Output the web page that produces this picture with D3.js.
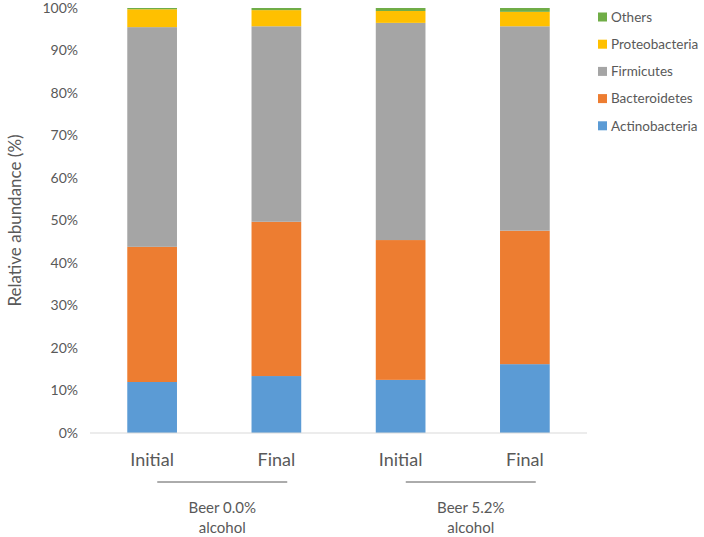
<!DOCTYPE html>
<html>
<head>
<meta charset="utf-8">
<script src="https://cdn.jsdelivr.net/npm/d3@7"></script>
<style>
  body { margin: 0; background: #fff; }
  text { font-family: Lato, "Open Sans", sans-serif; fill: #595959; }
</style>
</head>
<body>
<script>
// data
const samples = ["b00-initial", "b00-final", "b52-initial", "b52-final"];
const sampleLabels = ["Initial", "Final", "Initial", "Final"];
const groups = ["Beer 0.0%|alcohol", "Beer 5.2%|alcohol"];
const phyla = ["Actinobacteria", "Bacteroidetes", "Firmicutes", "Proteobacteria", "Others"];
const actinobacteria = [12.0, 13.4, 12.5, 16.2];
const bacteroidetes = [31.8, 36.3, 32.9, 31.4];
const firmicutes = [51.7, 46.0, 51.1, 48.1];
const proteobacteria = [4.2, 3.8, 2.8, 3.4];
const others = [0.3, 0.5, 0.7, 0.9];
const yTicks = [0, 10, 20, 30, 40, 50, 60, 70, 80, 90, 100];

const colors = ["#5B9BD5", "#ED7D31", "#A5A5A5", "#FFC000", "#70AD47"];

let width = 704;
let height = 537;
let marginTop = 8;
let marginRight = 117;
let marginBottom = 104;
let marginLeft = 90;

const series = [actinobacteria, bacteroidetes, firmicutes, proteobacteria, others];
const table = samples.map((s, i) => {
  const row = { sample: s };
  phyla.forEach((p, j) => row[p] = series[j][i]);
  return row;
});

const stacked = d3.stack().keys(phyla)(table);

const x = d3.scaleBand()
  .domain(samples)
  .range([marginLeft, width - marginRight])
  .paddingInner(0.6)
  .paddingOuter(0.3);

const y = d3.scaleLinear()
  .domain([0, 100])
  .range([height - marginBottom, marginTop]);

const color = d3.scaleOrdinal().domain(phyla).range(colors);

const svg = d3.select("body")
  .append("svg")
  .attr("width", width)
  .attr("height", height)
  .attr("viewBox", [0, 0, width, height]);

// bars
svg.append("g")
  .selectAll("g")
  .data(stacked)
  .join("g")
  .attr("fill", d => color(d.key))
  .selectAll("rect")
  .data(d => d)
  .join("rect")
  .attr("x", d => x(d.data.sample))
  .attr("y", d => y(d[1]))
  .attr("height", d => y(d[0]) - y(d[1]))
  .attr("width", x.bandwidth());

// y axis
svg.append("g")
  .attr("transform", `translate(${marginLeft},0)`)
  .call(d3.axisLeft(y).tickValues(yTicks).tickFormat(d => d + "%").tickSize(0).tickPadding(12))
  .call(g => g.select(".domain").remove())
  .call(g => g.selectAll("text").style("font-size", "14px"));

// baseline
svg.append("line")
  .attr("x1", marginLeft)
  .attr("x2", width - marginRight)
  .attr("y1", y(0))
  .attr("y2", y(0))
  .attr("stroke", "#d9d9d9")
  .attr("stroke-width", 1);

// y label
svg.append("text")
  .attr("transform", `translate(21,${(y(0) + y(100)) / 2}) rotate(-90)`)
  .attr("text-anchor", "middle")
  .style("font-size", "17px")
  .text("Relative abundance (%)");

// sample labels
svg.append("g")
  .selectAll("text")
  .data(samples)
  .join("text")
  .attr("x", d => x(d) + x.bandwidth() / 2)
  .attr("y", y(0) + 33)
  .attr("text-anchor", "middle")
  .style("font-size", "18px")
  .text((d, i) => sampleLabels[i]);

// group brackets
const groupG = svg.append("g")
  .selectAll("g")
  .data(groups)
  .join("g")
  .attr("transform", (d, i) => {
    const a = x(samples[i * 2]) + x.bandwidth() / 2;
    const b = x(samples[i * 2 + 1]) + x.bandwidth() / 2;
    return `translate(${(a + b) / 2 + 8},0)`;
  });

groupG.append("line")
  .attr("x1", -65)
  .attr("x2", 65)
  .attr("y1", y(0) + 49)
  .attr("y2", y(0) + 49)
  .attr("stroke", "#595959")
  .attr("stroke-width", 1);

groupG.each(function(d) {
  d3.select(this).selectAll("text")
    .data(d.split("|"))
    .join("text")
    .attr("x", 0)
    .attr("y", (t, i) => y(0) + 80 + i * 20)
    .attr("text-anchor", "middle")
    .style("font-size", "15px")
    .text(t => t);
});

// legend, top to bottom in reverse stack order
const legend = svg.append("g")
  .selectAll("g")
  .data(phyla.slice().reverse())
  .join("g")
  .attr("transform", (d, i) => `translate(598,${17 + i * 27.2})`);

legend.append("rect")
  .attr("y", -4.5)
  .attr("width", 9)
  .attr("height", 9)
  .attr("fill", d => color(d));

legend.append("text")
  .attr("x", 13)
  .attr("dy", "0.35em")
  .style("font-size", "13.5px")
  .text(d => d);
</script>
</body>
</html>
